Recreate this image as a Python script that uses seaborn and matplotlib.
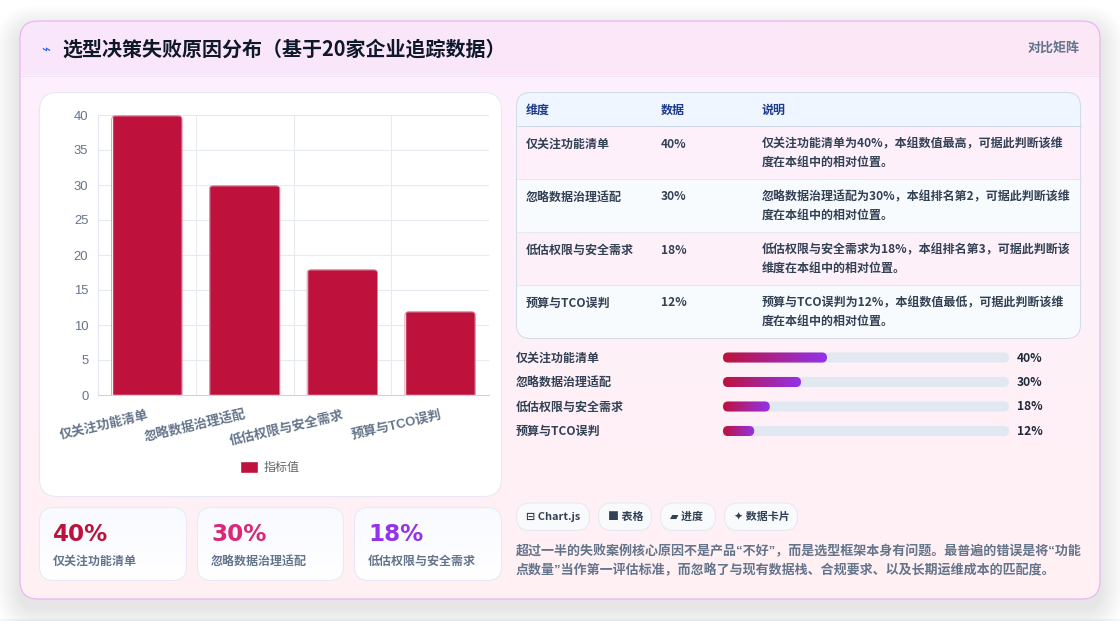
import numpy as np
import pandas as pd
import matplotlib
matplotlib.use('Agg')
import matplotlib.pyplot as plt
from matplotlib.patches import FancyBboxPatch, Rectangle
from matplotlib.colors import LinearSegmentedColormap
from matplotlib.transforms import Bbox, TransformedBbox
import seaborn as sns

sns.set_theme(style='white')
FONT = ['Noto Sans CJK SC', 'DejaVu Sans']
LATIN_FIRST = ['Liberation Sans', 'Noto Sans CJK SC', 'DejaVu Sans']
plt.rcParams['font.family'] = FONT

title = '选型决策失败原因分布（基于20家企业追踪数据）'
title_tag = '对比矩阵'
categories = ['仅关注功能清单', '忽略数据治理适配', '低估权限与安全需求', '预算与TCO误判']
values = [40, 30, 18, 12]
series_name = '指标值'
table_head = ['维度', '数据', '说明']
notes = [
    ['仅关注功能清单为40%，本组数值最高，可据此判断该维', '度在本组中的相对位置。'],
    ['忽略数据治理适配为30%，本组排名第2，可据此判断该维', '度在本组中的相对位置。'],
    ['低估权限与安全需求为18%，本组排名第3，可据此判断该', '维度在本组中的相对位置。'],
    ['预算与TCO误判为12%，本组数值最低，可据此判断该维', '度在本组中的相对位置。'],
]
stat_colors = ['#be123c', '#db2777', '#9333ea']
tags = ['⊟ Chart.js', '■ 表格', '▰ 进度', '✦ 数据卡片']
summary = [
    '超过一半的失败案例核心原因不是产品“不好”，而是选型框架本身有问题。最普遍的错误是将“功能',
    '点数量”当作第一评估标准，而忽略了与现有数据栈、合规要求、以及长期运维成本的匹配度。',
]

W, H = 1120, 621


def px(n):
    return n * 0.72


def new_axes(x0, y0, x1, y1):
    return fig.add_axes([x0 / W, 1 - y1 / H, (x1 - x0) / W, (y1 - y0) / H])


def box(x0, y0, x1, y1, r, fc='white', ec='none', lw=0.75, alpha=None, z=2):
    p = FancyBboxPatch((x0, y0), x1 - x0, y1 - y0, boxstyle=f'round,pad=0,rounding_size={r}',
                       fc=fc, ec=ec, lw=lw, alpha=alpha, zorder=z)
    bg.add_patch(p)
    return p


def gradient(x0, y0, x1, y1, c0, c1, clip, angle='v', z=2):
    cmap = LinearSegmentedColormap.from_list('g', [c0, c1])
    ramp = np.linspace(0, 1, 256)
    ramp = ramp.reshape(-1, 1) if angle == 'v' else ramp.reshape(1, -1)
    im = bg.imshow(ramp, extent=(x0, x1, y1, y0), cmap=cmap, aspect='auto', zorder=z, vmin=0, vmax=1)
    im.set_clip_path(clip)
    return im


def label(x, y, s, size, color, weight='normal', ha='left', z=6, family=None):
    bg.text(x, y, s, fontsize=px(size), color=color, fontweight=weight, ha=ha, va='center', zorder=z,
            family=family or FONT)


fig = plt.figure(figsize=(W / 100, H / 100), dpi=100, facecolor='white')
bg = fig.add_axes([0, 0, 1, 1], zorder=0)
bg.set_axis_off()

# page strip and soft shadow under the card
bg.add_patch(Rectangle((0, 619), W, 2, fc='#f1f5f9', ec='none', zorder=0))
for grow in range(1, 26):
    box(20 - grow, 30 - grow, 1100 + grow, 608 + grow, 18 + grow, fc='#0f172a', alpha=0.0026, z=1)

# main card
card = box(20, 21, 1100, 599, 18, fc='white', ec='none', z=2)
gradient(20, 21, 1100, 599, '#fdf1fe', '#fff0f3', card)
gradient(20, 21, 1100, 75, '#fae6fc', '#fce8f5', card, angle='h', z=3)
bg.plot([20, 1100], [75.5, 75.5], color='#f0e4f6', lw=0.75, zorder=3)
box(20, 21, 1100, 599, 18, fc='none', ec='#eab3f2', lw=0.85, z=4)

label(41, 50, '⌁', 15, '#2563eb')
label(62, 49, title, 20, '#0f172a', 'bold')
label(1079.5, 48, title_tag, 13, '#64748b', 'bold', ha='right')

# chart card
box(39.5, 92.5, 501.5, 496.5, 18, fc='white', ec='#e6e9f5')

ax = new_axes(98, 115, 489, 395)
ax.patch.set_alpha(0)
chart_df = pd.DataFrame({'cat': categories, 'val': values})
sns.barplot(data=chart_df, x='cat', y='val', color='#be123c', saturation=1, width=0.72,
            label=series_name, ax=ax, zorder=3)
ax.set_ylim(0, 40)
ax.set_xlim(-0.5, len(categories) - 0.5)
ax.set_yticks(range(0, 45, 5))
ax.set_xlabel('')
ax.set_ylabel('')
ax.grid(True, color='#e5e9f0', lw=0.75)
ax.set_axisbelow(True)
for side in ['top', 'right']:
    ax.spines[side].set_visible(False)
ax.spines['left'].set_color('#e2e6ee')
ax.spines['left'].set_linewidth(0.75)
ax.spines['bottom'].set_color('#ccd3de')
ax.spines['bottom'].set_linewidth(0.75)
ax.tick_params(axis='y', length=8, width=0.75, color='#e5e9f0', labelsize=px(13), labelcolor='#64748b', pad=-1)
for t in ax.get_yticklabels():
    t.set_family(['Liberation Sans', 'DejaVu Sans'])
    t.set_va('center_baseline')
ax.set_xticks([x - 0.5 for x in range(len(categories) + 1)], minor=True)
ax.tick_params(axis='x', which='minor', length=8, width=0.75, color='#e5e9f0')
ax.tick_params(axis='x', which='major', length=0, pad=10)
ax.xaxis.grid(False, which='major')
ax.xaxis.grid(True, which='minor', color='#e5e9f0', lw=0.75)
ax.set_xticks(range(len(categories)), categories)
for t in ax.get_xticklabels():
    t.set(rotation=13, ha='right', rotation_mode='anchor', fontsize=px(13), color='#64748b',
          fontweight='bold', va='top', family=LATIN_FIRST)
clip_top = TransformedBbox(Bbox([[0, 0], [1, 1.02]]), ax.transAxes)
for bar in ax.patches:
    bx, by, bw, bh = bar.get_x(), bar.get_y(), bar.get_width(), bar.get_height()
    outline = FancyBboxPatch((bx, by - 2), bw, bh + 1.9, boxstyle='round,pad=0,rounding_size=0.04',
                             mutation_aspect=(40 / 280) * 97.75, fc='none', ec='#d8839b', lw=0.6, zorder=4)
    ax.add_patch(outline)
    outline.set_clip_box(clip_top)
    bar.set_clip_path(outline)
leg = ax.legend(loc='center', bbox_to_anchor=(270 / W, 1 - 467.5 / H), bbox_transform=fig.transFigure,
                frameon=False, fontsize=px(12), handlelength=1.5, handleheight=1.2, handletextpad=0.5,
                labelcolor='#666666')

# table
tx0, ty0, tx1, ty1 = 516.5, 92.5, 1080.5, 338.5
tbl = box(tx0, ty0, tx1, ty1, 14, fc='none', ec='none', z=2)
row_tops = [126, 179, 232, 285, 338]
headrow = Rectangle((tx0, ty0), tx1 - tx0, 33, fc='#eff6ff', ec='none', zorder=3)
bg.add_patch(headrow)
headrow.set_clip_path(tbl)
bg.plot([tx0, tx1], [125.5, 125.5], color='#cfd9ea', lw=0.75, zorder=4)
for i, top in enumerate(row_tops[:-1]):
    if i % 2 == 1:
        r = Rectangle((tx0, top), tx1 - tx0, 53, fc='#f8fbfd', ec='none', zorder=3)
        bg.add_patch(r)
        r.set_clip_path(tbl)
    if i < 3:
        bg.plot([tx0, tx1], [row_tops[i + 1] - 0.5] * 2, color='#e6e9f3', lw=0.75, zorder=4)
box(tx0, ty0, tx1, ty1, 14, fc='none', ec='#d3dbe9', z=5)
col_x = [526, 661, 762]
for x, s in zip(col_x, table_head):
    label(x, 110, s, 12, '#1e3a8a', 'bold')
for top, cat, val, lines in zip(row_tops, categories, values, notes):
    label(col_x[0], top + 18, cat, 12, '#334155', 'bold')
    label(col_x[1], top + 18, f'{val}%', 12, '#334155', 'bold')
    label(col_x[2], top + 18, lines[0], 12, '#334155', 'bold')
    label(col_x[2], top + 36, lines[1], 12, '#334155', 'bold')

# progress rows
prog_y = [358, 382.5, 407, 431.5]
for y, cat, val in zip(prog_y, categories, values):
    label(516, y, cat, 12, '#334155', 'bold')
    label(1017, y, f'{val}%', 12, '#1e293b', 'bold')

prog = new_axes(723, 345.25, 1009, 443.25)
prog.patch.set_alpha(0)
sns.barplot(x=values, y=categories, orient='h', ax=prog, width=0.41, color='#be123c', saturation=1)
cmap = LinearSegmentedColormap.from_list('prog', ['#be123c', '#9333ea'])
for bar in list(prog.patches):
    by, bh, bw = bar.get_y(), bar.get_height(), bar.get_width()
    track = FancyBboxPatch((0, by), 110, bh, boxstyle='round,pad=0,rounding_size=1.92',
                           mutation_aspect=bh / 2 / 1.92, fc='#e2e8f0', ec='none', zorder=2)
    prog.add_patch(track)
    fill = FancyBboxPatch((0, by), bw, bh, boxstyle='round,pad=0,rounding_size=1.92',
                          mutation_aspect=bh / 2 / 1.92, fc='none', ec='none', zorder=3)
    prog.add_patch(fill)
    im = prog.imshow(np.linspace(0, 1, 128).reshape(1, -1), cmap=cmap, extent=(0, bw, by + bh, by),
                     aspect='auto', zorder=3)
    im.set_clip_path(fill)
    bar.set_visible(False)
prog.set_xlim(0, 110)
prog.set_ylim(3.5, -0.5)
prog.set_axis_off()

# stat cards
stat_boxes = [(39.5, 186.5), (197.5, 343.5), (354.5, 501.5)]
for (x0, x1), val, cat, color in zip(stat_boxes, values, categories, stat_colors):
    c = box(x0, 507.5, x1, 580.5, 14, fc='white', ec='none', z=2)
    gradient(x0, 507.5, x1, 580.5, '#f8faff', '#ffffff', c, z=3)
    box(x0, 507.5, x1, 580.5, 14, fc='none', ec='#e6e9f8', z=4)
    label(x0 + 13.5, 534.5, f'{val}%', 23, color, 'bold', family=['DejaVu Sans'])
    label(x0 + 13.5, 561, cat, 12, '#64748b', 'bold')

# tags
tag_boxes = [(516.5, 589.5), (598.5, 651.5), (660.5, 715.5), (724.5, 797.5)]
for (x0, x1), s in zip(tag_boxes, tags):
    box(x0, 503, x1, 530.5, 13.5, fc='#f8fafc', ec='#e6e9f3', z=3)
    label(x0 + 9, 517, s, 11, '#334155', 'bold')

for y, line in zip([551.5, 571], summary):
    label(516, y, line, 13, '#64748b', 'bold', family=LATIN_FIRST)

bg.set_xlim(0, W)
bg.set_ylim(H, 0)
fig.savefig('out.png', dpi=100, facecolor='white')
